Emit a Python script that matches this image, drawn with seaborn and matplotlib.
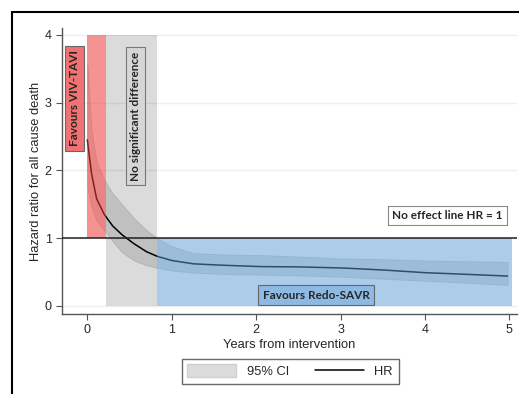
import numpy as np
import pandas as pd
import matplotlib
matplotlib.use("Agg")
import matplotlib.pyplot as plt
import seaborn as sns
from matplotlib.patches import Patch
from matplotlib.lines import Line2D

# Hazard ratio curve
years = [0, 0.05, 0.11, 0.2, 0.3, 0.41, 0.55, 0.7, 0.83, 1.0, 1.26, 1.6,
         2.05, 2.5, 3.0, 3.5, 4.0, 4.5, 4.98]
hr = [2.45, 1.95, 1.58, 1.35, 1.18, 1.05, 0.92, 0.80, 0.73, 0.67, 0.62, 0.60,
      0.58, 0.575, 0.56, 0.53, 0.49, 0.465, 0.44]
ci_hi = [3.6, 2.6, 2.13, 1.86, 1.66, 1.5, 1.3, 1.12, 1.0, 0.88, 0.78, 0.76,
         0.75, 0.73, 0.70, 0.69, 0.67, 0.66, 0.65]
ci_lo = [1.75, 1.45, 1.25, 1.12, 0.95, 0.79, 0.67, 0.60, 0.56, 0.52, 0.49, 0.47,
         0.46, 0.45, 0.43, 0.40, 0.37, 0.34, 0.31]

# shaded zones: (x0, x1, y0, y1)
zone_tavi = (0.0, 0.22, 1.0, 4.0)
zone_nsd = (0.22, 0.83, 0.0, 4.0)
zone_savr = (0.83, 5.03, 0.0, 1.0)

df = pd.DataFrame({"years": years, "hr": hr, "lo": ci_lo, "hi": ci_hi})

sns.set_style("ticks")
plt.rcParams['font.family'] = ['Liberation Sans', 'DejaVu Sans']

fig = plt.figure(figsize=(5.19, 3.94), dpi=100)
ax = fig.add_axes([0.1195, 0.203, 0.8765, 0.726])

ax.yaxis.grid(True, color='#eeeeee', lw=1)
ax.set_axisbelow(True)

# CI band and HR line
ax.fill_between(df["years"], df["lo"], df["hi"], color='black', alpha=0.12,
                edgecolor='black', lw=0.6, zorder=2)
sns.lineplot(data=df, x="years", y="hr", color='black', lw=1.1, ax=ax, zorder=3)

# zones drawn on top with transparency
ax.fill_between([zone_tavi[0], zone_tavi[1]], zone_tavi[2], zone_tavi[3],
                color='#ee3a3a', alpha=0.55, lw=0, zorder=4)
ax.fill_between([zone_nsd[0], zone_nsd[1]], zone_nsd[2], zone_nsd[3],
                color='black', alpha=0.14, lw=0, zorder=4)
ax.fill_between([zone_savr[0], zone_savr[1]], zone_savr[2], zone_savr[3],
                color='#5a9bd5', alpha=0.5, lw=0, zorder=4)

ax.axhline(1, color='#222222', lw=1.1, zorder=5)

bold = dict(family=['Lato', 'DejaVu Sans'], fontweight='bold', fontsize=8.5,
            ha='center', va='center', zorder=6)
ax.text(-0.15, 3.06, "Favours VIV-TAVI", rotation=90,
        bbox=dict(boxstyle='square,pad=0.35', fc='#f07272', ec='#666666', lw=0.8), **bold)
ax.text(0.57, 2.8, "No significant difference", rotation=90,
        bbox=dict(boxstyle='square,pad=0.35', fc='#d6d6d6', ec='#777777', lw=0.8), **bold)
ax.text(4.27, 1.33, "No effect line HR = 1",
        bbox=dict(boxstyle='square,pad=0.35', fc='white', ec='#888888', lw=0.8), **bold)
ax.text(2.71, 0.16, "Favours Redo-SAVR",
        bbox=dict(boxstyle='square,pad=0.35', fc='#8db9e2', ec='#666666', lw=0.8), **bold)

ax.set_xlim(-0.30, 5.09)
ax.set_ylim(-0.12, 4.1)
ax.set_xticks([0, 1, 2, 3, 4, 5])
ax.set_yticks([0, 1, 2, 3, 4])
ax.tick_params(axis='both', labelsize=9, length=4, color='#555555', direction='out')
ax.set_xlabel("Years from intervention", fontsize=9.3, labelpad=2)
ax.set_ylabel("Hazard ratio for all cause death", fontsize=9.3, labelpad=2)
sns.despine(ax=ax)
for s in ['left', 'bottom']:
    ax.spines[s].set_color('#555555')
    ax.spines[s].set_linewidth(1)

handles = [Patch(facecolor='#dcdcdc', edgecolor='#d0d0d0'),
           Line2D([0], [0], color='black', lw=1.1)]
fig.legend(handles, ["95% CI", "HR"], loc='center', bbox_to_anchor=(0.559, 0.058),
           ncol=2, fontsize=9.3, frameon=True, fancybox=False, edgecolor='#444444',
           handlelength=3.8, handleheight=1.1, columnspacing=2.0, borderpad=0.45)

# outer frame (top and left edges visible in the crop)
fx, fy = 12 / 519, 1 - 12 / 394
fig.add_artist(Line2D([fx, 1.0], [fy, fy], transform=fig.transFigure, color='black', lw=1.5))
fig.add_artist(Line2D([fx, fx], [fy, 0.0], transform=fig.transFigure, color='black', lw=1.5))

fig.savefig("out.png", dpi=100)
